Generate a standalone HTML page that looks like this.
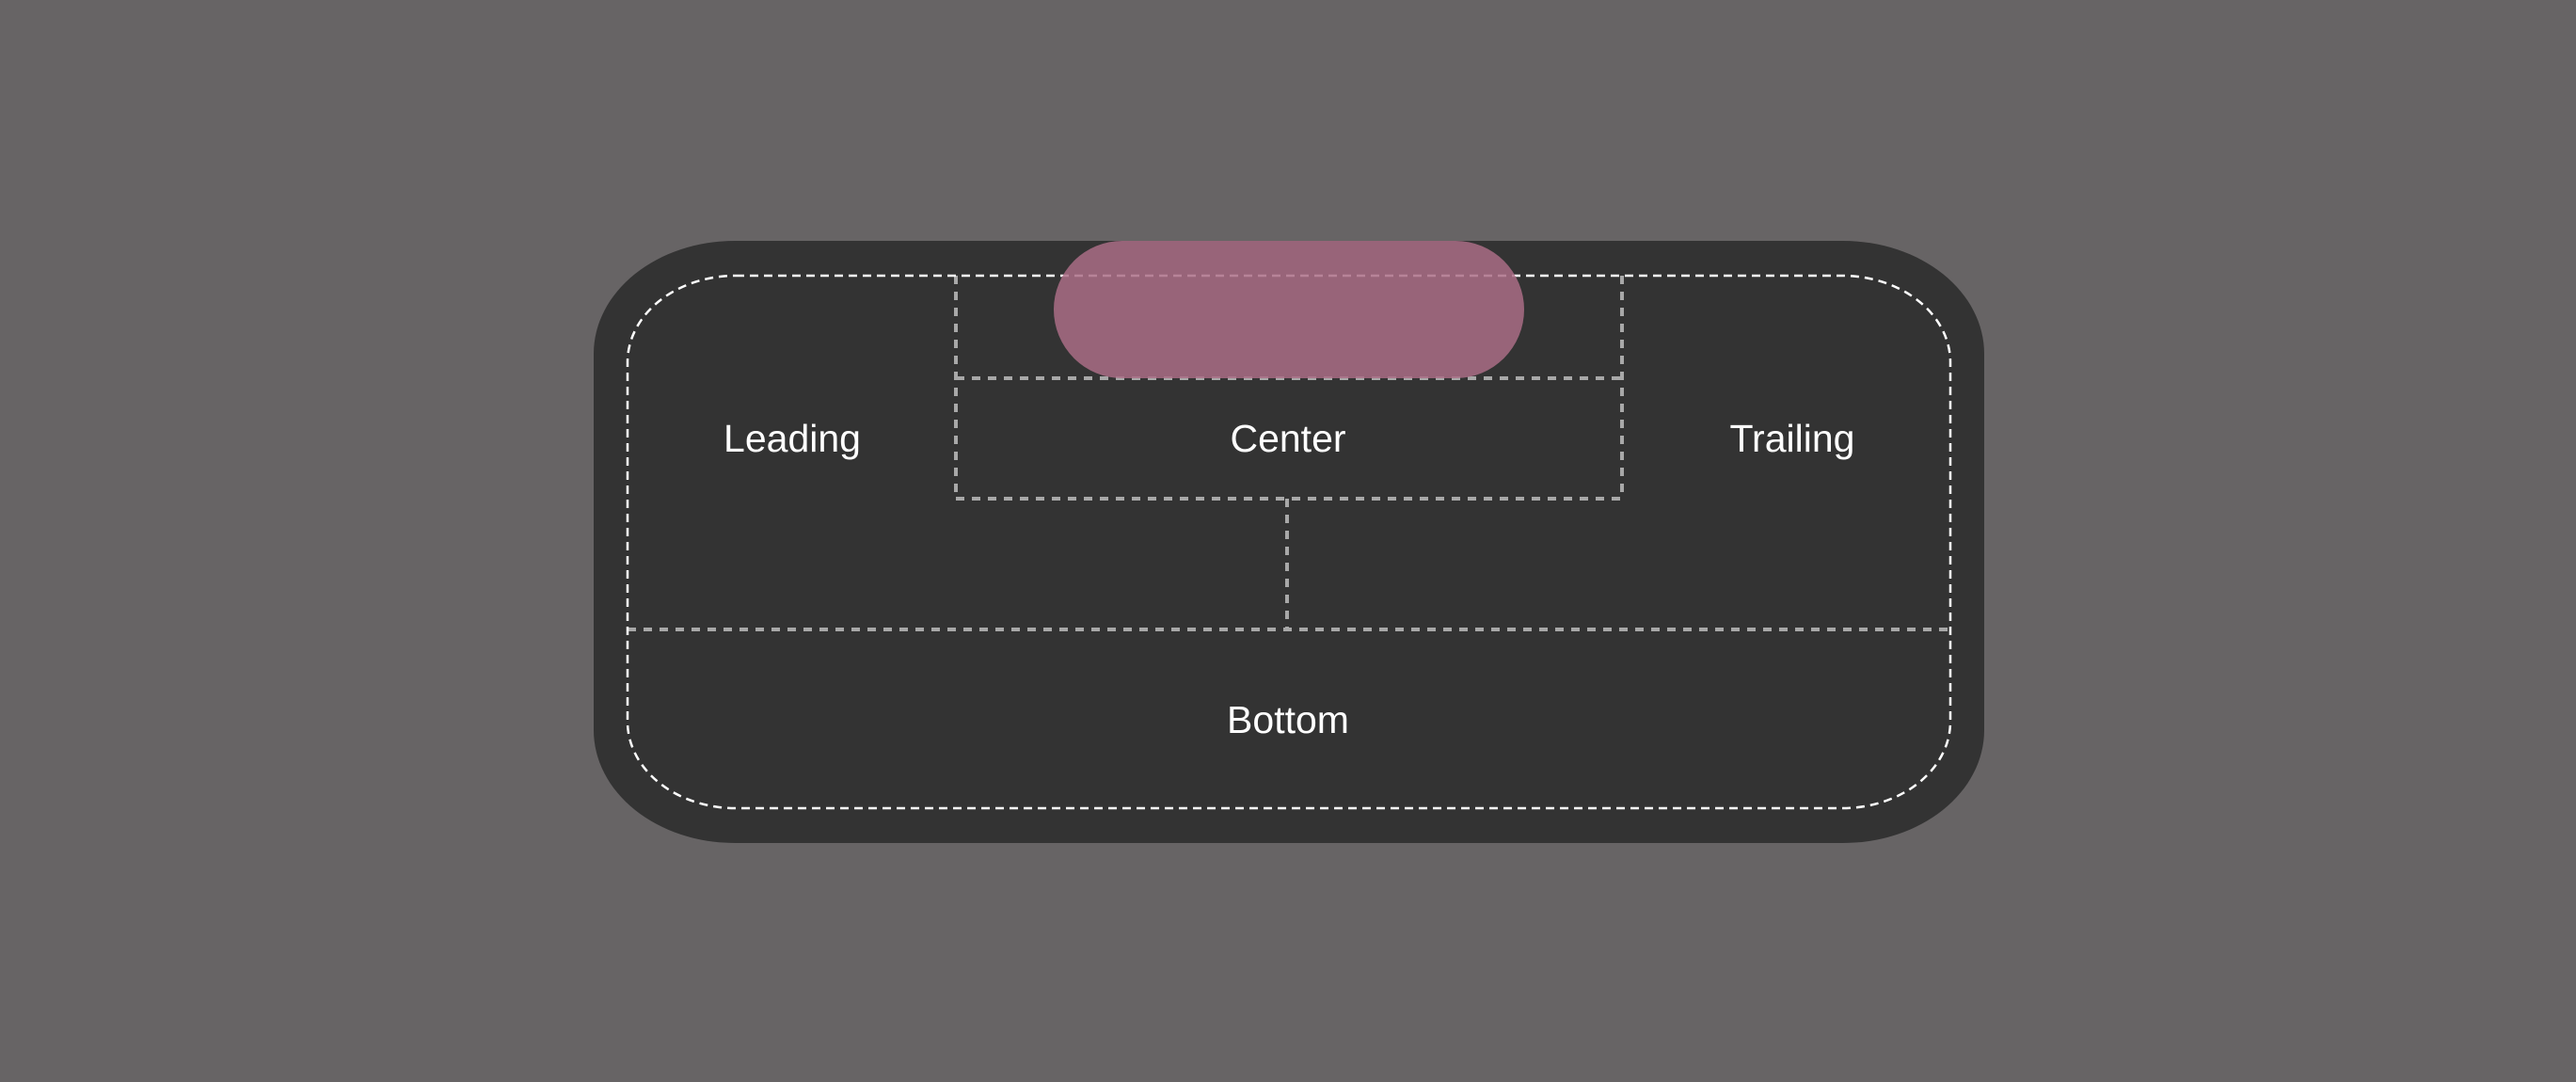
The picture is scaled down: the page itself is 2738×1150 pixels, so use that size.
<!DOCTYPE html>
<html><head><meta charset="utf-8"><style>
html,body{margin:0;padding:0;background:#676465;}
svg{display:block}
text{font-family:"Liberation Sans",sans-serif;font-size:41px;fill:#ffffff;text-anchor:middle;dominant-baseline:central}
</style></head><body>
<svg width="2738" height="1150" viewBox="0 0 2738 1150">
<rect x="0" y="0" width="2738" height="1150" fill="#676465"/>
<rect x="631" y="256" width="1478" height="640" rx="150" ry="120" fill="#333333"/>
<g stroke="#a8a8a8" stroke-width="4" stroke-dasharray="9 8" fill="none">
<line x1="1016" y1="293" x2="1016" y2="530"/>
<line x1="1724" y1="293" x2="1724" y2="530"/>
<line x1="1016" y1="402" x2="1724" y2="402"/>
<line x1="1016" y1="530" x2="1724" y2="530"/>
<line x1="1368" y1="530" x2="1368" y2="669"/>
<line x1="667" y1="669" x2="2073" y2="669"/>
</g>
<rect x="667" y="293" width="1406" height="566" rx="115" ry="92" fill="none" stroke="#ffffff" stroke-width="2.5" stroke-dasharray="9 6"/>
<rect x="1120" y="256" width="500" height="146" rx="73" ry="73" fill="#aa6d86" fill-opacity="0.85"/>
<text x="842" y="466">Leading</text>
<text x="1369" y="466">Center</text>
<text x="1905" y="466">Trailing</text>
<text x="1369" y="765">Bottom</text>
</svg>
</body></html>
